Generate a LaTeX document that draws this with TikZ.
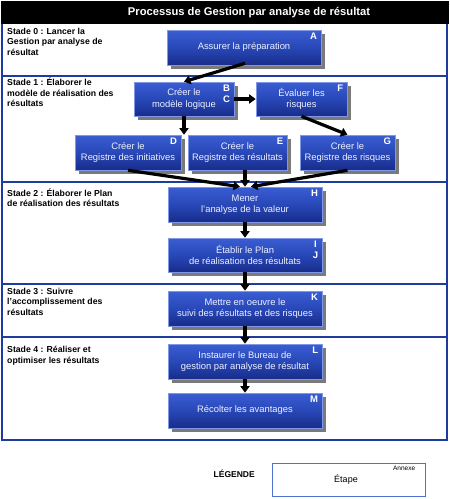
\documentclass[tikz,border=0pt]{standalone}
\usepackage{fontspec}
\setmainfont{Liberation Sans}
\usetikzlibrary{arrows.meta,shadows,calc}
\definecolor{blueT}{HTML}{3A5DD2}
\definecolor{blueM}{HTML}{2848B8}
\definecolor{blueB}{HTML}{182C8A}
\definecolor{boxedge}{HTML}{7E98E6}
\definecolor{frameblue}{HTML}{1E3C9E}
\definecolor{legblue}{HTML}{4F72D0}
\definecolor{shadowgray}{HTML}{7A7A7A}
\definecolor{boxtext}{HTML}{EEF1FF}
\tikzset{
  stepbox/.style={rectangle, draw=boxedge, line width=0.6pt, top color=blueT, bottom color=blueB, middle color=blueM,
    text=boxtext, font=\fontsize{9.4}{11.5}\selectfont, align=center, inner sep=0pt, minimum height=35pt,
    drop shadow={shadow xshift=4pt, shadow yshift=-4pt, fill=shadowgray, opacity=1}},
  letter/.style={text=white, font=\bfseries\fontsize{9.5}{11}\selectfont, align=center, inner sep=0pt, anchor=north east},
  stage/.style={anchor=north west, align=left, inner sep=0pt, font=\bfseries\fontsize{8.7}{10.5}\selectfont},
  arr/.style={line width=3.2pt, -{Triangle[length=6.5pt,width=9pt]}},
  sep/.style={frameblue, line width=1.8pt}
}
\begin{document}
\begin{tikzpicture}[x=1pt,y=-1pt]
\useasboundingbox (0,0) rectangle (450,499);
% title bar
\fill[black] (1,0.5) rectangle (448.5,24);
\node[text=white, font=\bfseries\fontsize{11.2}{13}\selectfont] (title) at (249,12.5) {Processus de Gestion par analyse de résultat};
% frame and separators
\draw[sep] (2,24) -- (2,440) -- (447,440) -- (447,24);
\draw[sep] (2,76) -- (447,76);
\draw[sep] (2,182) -- (447,182);
\draw[sep] (2,284) -- (447,284);
\draw[sep] (2,337) -- (447,337);
% stage labels
\node[stage] (s0) at (7,27.5) {Stade 0 : Lancer la\\Gestion par analyse de\\résultat};
\node[stage] (s1) at (7,78) {Stade 1 : Élaborer le\\modèle de réalisation des\\résultats};
\node[stage] (s2) at (7,188.5) {Stade 2 : Élaborer le Plan\\de réalisation des résultats};
\node[stage] (s3) at (7,287.5) {Stade 3 : Suivre\\l’accomplissement des\\résultats};
\node[stage] (s4) at (7,346) {Stade 4 : Réaliser et\\optimiser les résultats};
% boxes
\node[stepbox, minimum width=154pt] (A) at (244,47.5) {Assurer la préparation};
\node[stepbox, minimum width=100pt, minimum height=34pt] (B) at (184,99) {Créer le\\modèle logique};
\node[stepbox, minimum width=91pt, minimum height=34pt] (F) at (301.5,99) {Évaluer les\\risques};
\node[stepbox, minimum width=106pt] (D) at (128,152.5) {Créer le\\Registre des initiatives};
\node[stepbox, minimum width=99pt] (E) at (237.5,152.5) {Créer le\\Registre des résultats};
\node[stepbox, minimum width=95pt] (G) at (347.5,152.5) {Créer le\\Registre des risques};
\node[stepbox, minimum width=154pt] (H) at (245,204.5) {Mener\\l’analyse de la valeur};
\node[stepbox, minimum width=154pt, minimum height=34pt] (IJ) at (245,255) {Établir le Plan\\de réalisation des résultats};
\node[stepbox, minimum width=154pt] (K) at (245,308.5) {Mettre en oeuvre le\\suivi des résultats et des risques};
\node[stepbox, minimum width=154pt] (L) at (245,361.5) {Instaurer le Bureau de\\gestion par analyse de résultat};
\node[stepbox, minimum width=154pt] (M) at (245,410.5) {Récolter les avantages};
% letters
\node[letter] (Al) at ($(A.north east)+(-4,3)$) {A};
\node[letter] (Bl) at ($(B.north east)+(-4,3)$) {B\\C};
\node[letter] (Fl) at ($(F.north east)+(-4,3)$) {F};
\node[letter] (Dl) at ($(D.north east)+(-4,3)$) {D};
\node[letter] (El) at ($(E.north east)+(-4,3)$) {E};
\node[letter] (Gl) at ($(G.north east)+(-4,3)$) {G};
\node[letter] (Hl) at ($(H.north east)+(-4,3)$) {H};
\node[letter] (IJl) at ($(IJ.north east)+(-4,3)$) {I\\J};
\node[letter] (Kl) at ($(K.north east)+(-4,3)$) {K};
\node[letter] (Ll) at ($(L.north east)+(-4,3)$) {L};
\node[letter] (Ml) at ($(M.north east)+(-4,3)$) {M};
% arrows
\coordinate (bde) at (B.south |- D.north);
\draw[arr] ($(A.south)+(1,-2)$) -- (B.north);
\draw[arr] (B.east) -- (F.west);
\draw[arr] (B.south) -- (bde);
\draw[arr] (F.south) -- (G.north);
\draw[arr] (D.south) -- ($(H.north)+(-5,0)$);
\draw[arr] (E.south -| H.north) -- (H.north);
\draw[arr] (G.south) -- ($(H.north)+(6,0)$);
\draw[arr] (H.south) -- (IJ.north);
\draw[arr] (IJ.south) -- (K.north);
\draw[arr] (K.south) -- (L.north);
\draw[arr] (L.south) -- (M.north);
% legend
\node[font=\bfseries\fontsize{8.5}{10}\selectfont, anchor=east, inner sep=0pt] (leg) at (255,474) {LÉGENDE};
\node[draw=legblue, line width=0.8pt, fill=white, minimum width=153pt, minimum height=33pt, inner sep=0pt] (legbox) at (348.5,479.5) {};
\node[font=\fontsize{9}{10}\selectfont, inner sep=0pt] (etape) at (346,479.5) {Étape};
\node[font=\fontsize{6.5}{7}\selectfont, inner sep=0pt, anchor=north east] (annexe) at ($(legbox.north east)+(-10,3)$) {Annexe};
\end{tikzpicture}
\end{document}
